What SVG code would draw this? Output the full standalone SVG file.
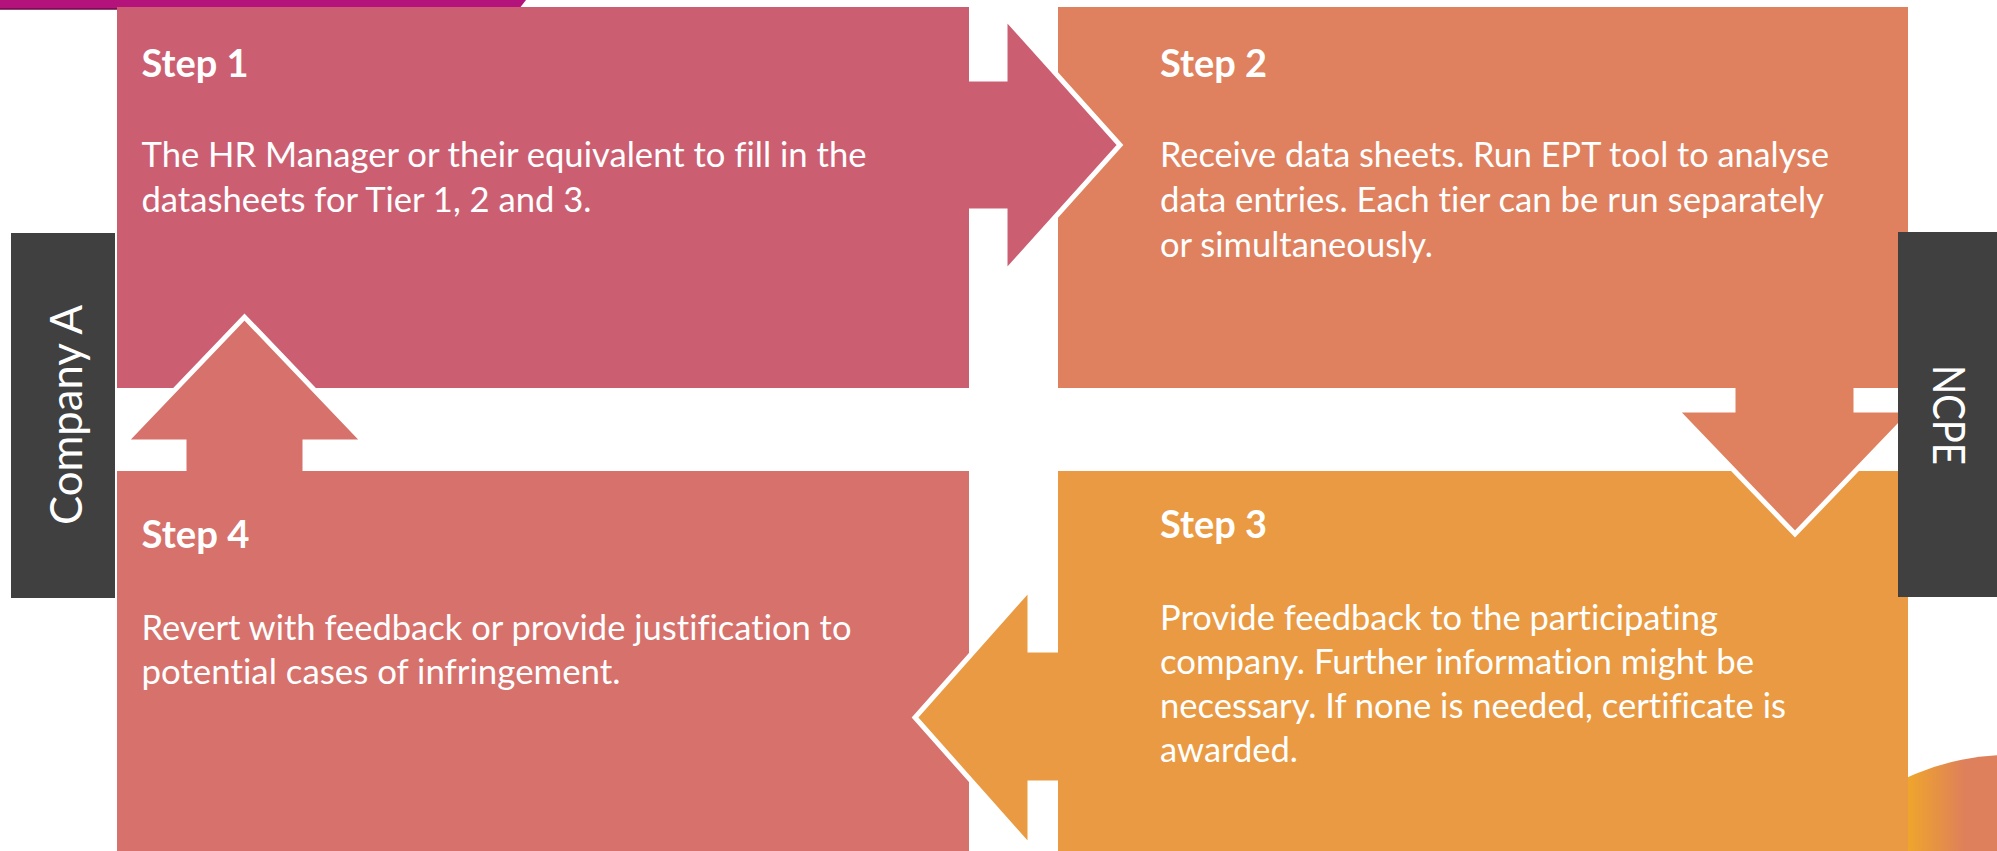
<svg xmlns="http://www.w3.org/2000/svg" width="1997" height="851" viewBox="0 0 1997 851">
<style>
.s1{fill:#CC5E72}
.s2{fill:#DF815E}
.s3{fill:#E99A42}
.s4{fill:#D6716C}
.side{fill:#404040}
.arrow{stroke:#FFFFFF;stroke-width:5;stroke-linejoin:miter}
text{font-variant-ligatures:none}
.head{font-family:Lato,"Liberation Sans",sans-serif;font-weight:bold;font-size:38px;fill:#FFFFFF}
.body{font-family:Lato,"Liberation Sans",sans-serif;font-size:34px;fill:#FFFFFF}
.lab{font-family:Lato,"Liberation Sans",sans-serif;font-size:44px;fill:#FFFFFF}
</style>
<defs>
<linearGradient id="blob" gradientUnits="userSpaceOnUse" x1="1908" y1="0" x2="1965" y2="0">
<stop offset="0" stop-color="#EFA52C"/>
<stop offset="1" stop-color="#DE805B"/>
</linearGradient>
</defs>
<rect width="1997" height="851" fill="#FFFFFF"/>
<g id="top-bar">
<polygon points="0,0 526,0 519,9 0,9" fill="#B3137B"/>
<line x1="0" y1="9" x2="519" y2="9" stroke="#6E0C4A" stroke-width="1.5"/>
</g>
<g id="corner-blob">
<circle cx="2010" cy="1003" r="248" fill="url(#blob)"/>
</g>
<g id="step1">
<rect class="s1" x="117" y="7" width="852" height="381"/>
</g>
<g id="step2">
<rect class="s2" x="1058" y="7" width="850" height="381"/>
</g>
<g id="step3">
<rect class="s3" x="1058" y="471" width="850" height="380"/>
</g>
<g id="step4">
<rect class="s4" x="117" y="471" width="852" height="380"/>
</g>
<g id="connectors">
<path class="s1 arrow" d="M969,79 H1005 V17 L1120,145 L1005,273 V211 H969"/>
<path class="s2 arrow" d="M1733,388 V410 H1676 L1795,534 L1914,410 H1856 V388"/>
<path class="s3 arrow" d="M1058,650 H1030 V588 L915,717.5 L1030,847 V783 H1058"/>
<path class="s4 arrow" d="M184,471 V442 H125 L244.5,317 L364,442 H305 V471"/>
</g>
<g id="company-a">
<rect class="side" x="11" y="233" width="104" height="365"/>
<text class="lab" transform="translate(82,415) rotate(-90)" text-anchor="middle" textLength="220" lengthAdjust="spacingAndGlyphs">Company A</text>
</g>
<g id="ncpe">
<rect class="side" x="1898" y="232" width="99" height="365"/>
<text class="lab" transform="translate(1933,415) rotate(90)" text-anchor="middle" textLength="100" lengthAdjust="spacingAndGlyphs">NCPE</text>
</g>
<g id="step1-text">
<text class="head" x="141.5" y="77" textLength="107" lengthAdjust="spacingAndGlyphs">Step 1</text>
<text class="body" x="141.5" y="167" textLength="725" lengthAdjust="spacingAndGlyphs">The HR Manager or their equivalent to fill in the</text>
<text class="body" x="141.5" y="212" textLength="450" lengthAdjust="spacingAndGlyphs">datasheets for Tier 1, 2 and 3.</text>
</g>
<g id="step2-text">
<text class="head" x="1160" y="77" textLength="107" lengthAdjust="spacingAndGlyphs">Step 2</text>
<text class="body" x="1160" y="167" textLength="669" lengthAdjust="spacingAndGlyphs">Receive data sheets. Run EPT tool to analyse</text>
<text class="body" x="1160" y="212" textLength="664" lengthAdjust="spacingAndGlyphs">data entries. Each tier can be run separately</text>
<text class="body" x="1160" y="257" textLength="273" lengthAdjust="spacingAndGlyphs">or simultaneously.</text>
</g>
<g id="step3-text">
<text class="head" x="1160" y="538" textLength="107" lengthAdjust="spacingAndGlyphs">Step 3</text>
<text class="body" x="1160" y="630" textLength="558" lengthAdjust="spacingAndGlyphs">Provide feedback to the participating</text>
<text class="body" x="1160" y="674" textLength="594" lengthAdjust="spacingAndGlyphs">company. Further information might be</text>
<text class="body" x="1160" y="718" textLength="626" lengthAdjust="spacingAndGlyphs">necessary. If none is needed, certificate is</text>
<text class="body" x="1160" y="762" textLength="138" lengthAdjust="spacingAndGlyphs">awarded.</text>
</g>
<g id="step4-text">
<text class="head" x="141.5" y="548" textLength="108" lengthAdjust="spacingAndGlyphs">Step 4</text>
<text class="body" x="141.5" y="640" textLength="710" lengthAdjust="spacingAndGlyphs">Revert with feedback or provide justification to</text>
<text class="body" x="141.5" y="684" textLength="479" lengthAdjust="spacingAndGlyphs">potential cases of infringement.</text>
</g>
</svg>
